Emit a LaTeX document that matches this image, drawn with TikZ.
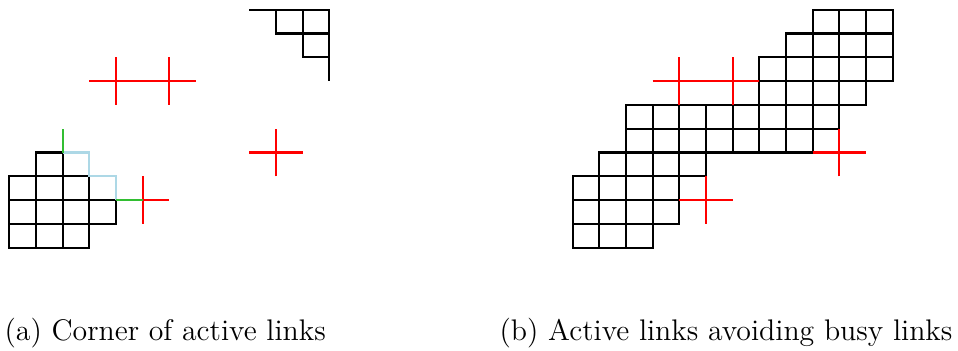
\documentclass[tikz,border=0pt]{standalone}
\begin{document}
\begin{tikzpicture}
  \definecolor{busylink}{RGB}{255,0,0}
  \definecolor{cornerlink}{RGB}{173,216,230}
  \definecolor{newlink}{RGB}{50,190,50}
  \tikzset{
    active/.style={draw=black, line width=1.15pt},
    busy/.style={draw=busylink, line width=1.15pt},
    corner/.style={draw=cornerlink, line width=1.15pt},
    fresh/.style={draw=newlink, line width=1.15pt},
    caption/.style={inner sep=0pt, anchor=base west, font=\fontsize{14.9}{17.5}\selectfont},
    panel/.style={x=13.333pt, y=11.9pt}
  }
  \useasboundingbox (0,0) rectangle (479pt,175pt);

  % (a) corner of active links
  \begin{scope}[panel, shift={(4.67pt,51.15pt)}]
    \foreach \j/\a/\b in {0/0/2, 1/0/3, 2/0/2, 3/1/1}
      \foreach \i in {\a,...,\b}
        \draw[active] (\i,\j) rectangle ++(1,1);
    % active links near the upper right
    \draw[active] (9,10) -- (12,10) -- (12,7);
    \draw[active] (10,10) -- (10,9) -- (12,9);
    \draw[active] (11,10) -- (11,8) -- (12,8);
    % corner being filled in
    \draw[corner] (2,4) -- (3,4) -- (3,3) -- (4,3) -- (4,2);
    % busy links
    \draw[busy] (3,7) -- (7,7);
    \draw[busy] (4,6) -- (4,8);
    \draw[busy] (6,6) -- (6,8);
    \draw[busy] (9,4) -- (11,4);
    \draw[busy] (10,3) -- (10,5);
    \draw[busy] (5,2) -- (6,2);
    \draw[busy] (5,1) -- (5,3);
    % newly activated links
    \draw[fresh] (2,4) -- (2,5);
    \draw[fresh] (4,2) -- (5,2);
  \end{scope}

  % (b) active links avoiding busy links
  \begin{scope}[panel, shift={(286.33pt,51.15pt)}]
    \foreach \j/\a/\b in {0/0/2, 1/0/3, 2/0/4, 3/1/4, 4/2/9, 5/2/9,
                          6/7/10, 7/7/11, 8/8/11, 9/9/11}
      \foreach \i in {\a,...,\b}
        \draw[active] (\i,\j) rectangle ++(1,1);
    \draw[busy] (3,7) -- (7,7);
    \draw[busy] (4,6) -- (4,8);
    \draw[busy] (6,6) -- (6,8);
    \draw[busy] (9,4) -- (11,4);
    \draw[busy] (10,3) -- (10,5);
    \draw[busy] (4,2) -- (6,2);
    \draw[busy] (5,1) -- (5,3);
  \end{scope}

  \node[caption] (capa) at (2.1pt,5pt) {(a) Corner of active links};
  \node[caption] (capb) at (249.6pt,5pt) {(b) Active links avoiding busy links};
\end{tikzpicture}
\end{document}
